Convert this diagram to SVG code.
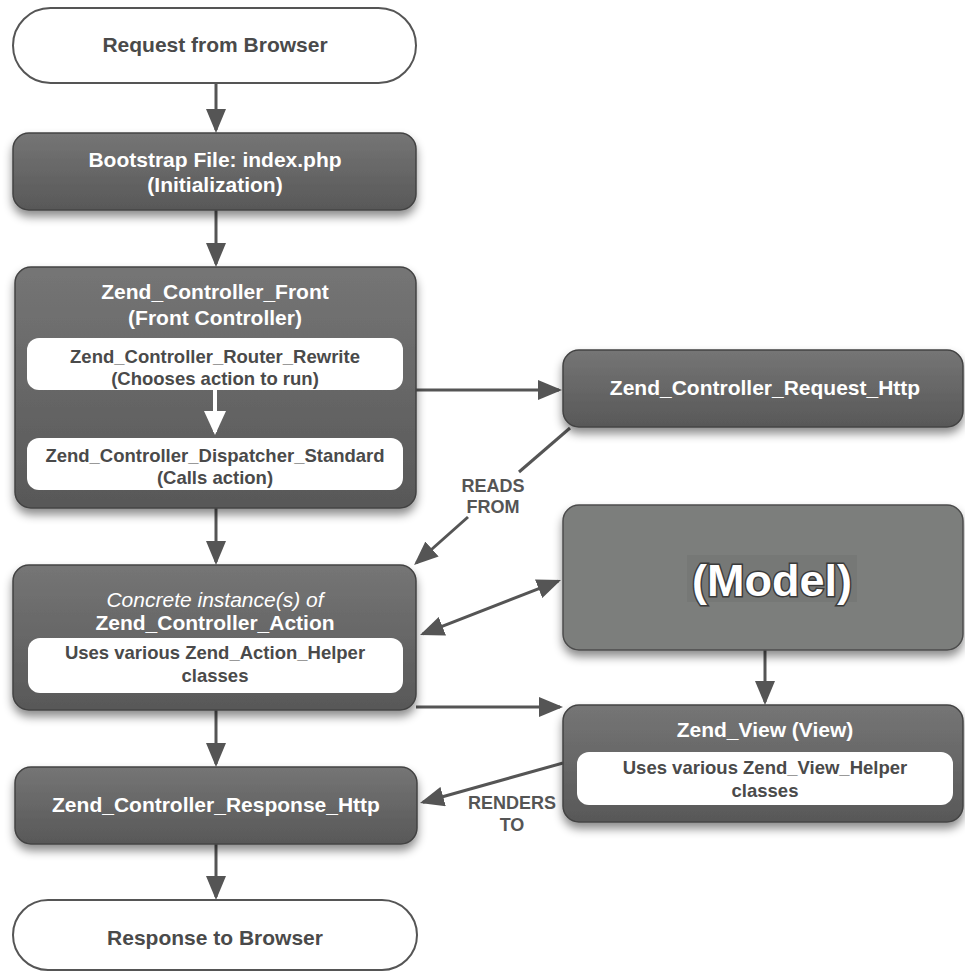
<svg xmlns="http://www.w3.org/2000/svg" width="965" height="971" viewBox="0 0 965 971">
  <style>
    .pill { fill: #ffffff; stroke: #555555; stroke-width: 2; }
    .dark { fill: url(#darkFill); stroke: #434343; stroke-width: 1.5; filter: url(#shadow); }
    .model { fill: #7c7e7c; stroke: #4c4c4c; stroke-width: 1.5; filter: url(#shadow); }
    .inner { fill: #ffffff; }
    .title { font-family: "Liberation Sans", Arial, sans-serif; font-weight: bold; font-size: 21px; fill: #ffffff; text-anchor: middle; }
    .ital { font-family: "Liberation Sans", Arial, sans-serif; font-style: italic; font-size: 21px; fill: #ffffff; text-anchor: middle; }
    .term { font-family: "Liberation Sans", Arial, sans-serif; font-weight: bold; font-size: 21px; fill: #4a4a4a; text-anchor: middle; }
    .sub { font-family: "Liberation Sans", Arial, sans-serif; font-weight: bold; font-size: 18.5px; fill: #4a4a4a; text-anchor: middle; }
    .lbl { font-family: "Liberation Sans", Arial, sans-serif; font-weight: bold; font-size: 18px; fill: #555555; text-anchor: middle; }
    .big { font-family: "Liberation Sans", Arial, sans-serif; font-weight: bold; font-size: 45px; fill: #ffffff; text-anchor: middle; stroke: #3a3a3a; stroke-width: 3; paint-order: stroke; }
    .conn { stroke: #555555; stroke-width: 3; fill: none; }
    .arr { marker-end: url(#ah); }
    .dbl { marker-start: url(#ah); marker-end: url(#ah); }
  </style>
  <defs>
    <linearGradient id="darkFill" x1="0" y1="0" x2="0" y2="1">
      <stop offset="0" stop-color="#757575"/>
      <stop offset="1" stop-color="#585858"/>
    </linearGradient>
    <filter id="shadow" x="-10%" y="-10%" width="120%" height="135%">
      <feDropShadow dx="0" dy="6" stdDeviation="5" flood-color="#000000" flood-opacity="0.45"/>
    </filter>
    <marker id="ah" markerUnits="userSpaceOnUse" markerWidth="24" markerHeight="20" refX="21" refY="10" orient="auto-start-reverse">
      <path d="M0,0 L24,10 L0,20 z" fill="#555555"/>
    </marker>
    <marker id="ahw" markerUnits="userSpaceOnUse" markerWidth="24" markerHeight="22" refX="21" refY="11" orient="auto">
      <path d="M0,0 L24,11 L0,22 z" fill="#ffffff"/>
    </marker>
  </defs>

  <!-- connectors -->
  <g id="connectors">
    <line class="conn arr" x1="216" y1="83" x2="216" y2="130"/>
    <line class="conn arr" x1="216" y1="210" x2="216" y2="264"/>
    <line class="conn arr" x1="216" y1="508" x2="216" y2="562"/>
    <line class="conn arr" x1="216" y1="710" x2="216" y2="764"/>
    <line class="conn arr" x1="216" y1="844" x2="216" y2="897"/>
    <line class="conn arr" x1="416" y1="390" x2="559" y2="390"/>
    <line class="conn" x1="570" y1="428" x2="519" y2="472"/>
    <line class="conn arr" x1="468" y1="517" x2="416.3" y2="563"/>
    <line class="conn dbl" x1="422.8" y1="633.9" x2="558.2" y2="581.1"/>
    <line class="conn arr" x1="416" y1="707" x2="560" y2="707"/>
    <line class="conn arr" x1="765" y1="650" x2="765" y2="702"/>
    <line class="conn arr" x1="563" y1="763" x2="422.9" y2="802.2"/>
    <text class="lbl" x="493" y="492">READS</text>
    <text class="lbl" x="493" y="513">FROM</text>
    <text class="lbl" x="512" y="809">RENDERS</text>
    <text class="lbl" x="512" y="831">TO</text>
  </g>

  <g id="request-from-browser">
    <rect class="pill" x="13" y="8" width="403" height="75" rx="37.5"/>
    <text class="term" x="215" y="52">Request from Browser</text>
  </g>

  <g id="bootstrap">
    <rect class="dark" x="13" y="133" width="403" height="77" rx="16"/>
    <text class="title" x="215" y="167">Bootstrap File: index.php</text>
    <text class="title" x="215" y="192">(Initialization)</text>
  </g>

  <g id="front-controller">
    <rect class="dark" x="15" y="267" width="401" height="241" rx="16"/>
    <text class="title" x="215" y="299">Zend_Controller_Front</text>
    <text class="title" x="215" y="325">(Front Controller)</text>
    <rect class="inner" x="27" y="338" width="376" height="52" rx="12"/>
    <text class="sub" x="215" y="363">Zend_Controller_Router_Rewrite</text>
    <text class="sub" x="215" y="385">(Chooses action to run)</text>
    <line x1="215" y1="390" x2="215" y2="432" stroke="#ffffff" stroke-width="4" marker-end="url(#ahw)"/>
    <rect class="inner" x="27" y="438" width="376" height="52" rx="12"/>
    <text class="sub" x="215" y="462">Zend_Controller_Dispatcher_Standard</text>
    <text class="sub" x="215" y="484">(Calls action)</text>
  </g>

  <g id="request-http">
    <rect class="dark" x="563" y="350" width="400" height="77" rx="16"/>
    <text class="title" x="765" y="395">Zend_Controller_Request_Http</text>
  </g>

  <g id="model">
    <rect class="model" x="563" y="505" width="400" height="145" rx="16"/>
    <rect x="687" y="555" width="170" height="47" fill="#767876"/>
    <text class="big" x="772" y="596">(Model)</text>
  </g>

  <g id="action">
    <rect class="dark" x="13" y="565" width="403" height="145" rx="16"/>
    <text class="ital" x="215" y="607">Concrete instance(s) of</text>
    <text class="title" x="215" y="630">Zend_Controller_Action</text>
    <rect class="inner" x="28" y="638" width="375" height="55" rx="12"/>
    <text class="sub" x="215" y="659">Uses various Zend_Action_Helper</text>
    <text class="sub" x="215" y="682">classes</text>
  </g>

  <g id="view">
    <rect class="dark" x="563" y="705" width="400" height="117" rx="16"/>
    <text class="title" x="765" y="737">Zend_View (View)</text>
    <rect class="inner" x="577" y="752" width="376" height="53" rx="12"/>
    <text class="sub" x="765" y="774">Uses various Zend_View_Helper</text>
    <text class="sub" x="765" y="797">classes</text>
  </g>

  <g id="response-http">
    <rect class="dark" x="15" y="767" width="402" height="77" rx="16"/>
    <text class="title" x="216" y="812">Zend_Controller_Response_Http</text>
  </g>

  <g id="response-to-browser">
    <rect class="pill" x="13" y="900" width="404" height="70" rx="35"/>
    <text class="term" x="215" y="945">Response to Browser</text>
  </g>
</svg>
